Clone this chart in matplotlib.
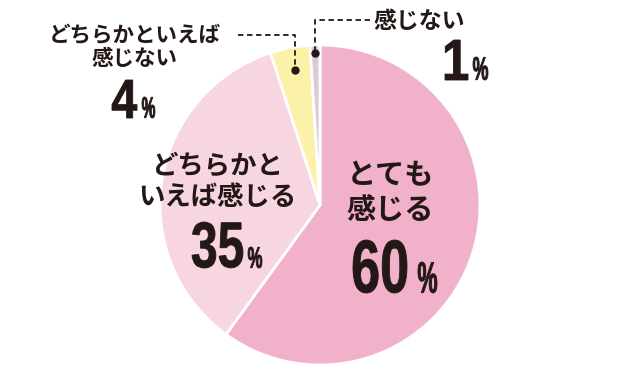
import matplotlib.pyplot as plt
from matplotlib.font_manager import FontProperties
from matplotlib.patches import PathPatch
from matplotlib.textpath import TextPath
from matplotlib.transforms import Affine2D

W, H = 621, 373

labels = ["とても\n感じる", "どちらかと\nいえば感じる", "どちらかといえば\n感じない", "感じない"]
values = [60, 35, 4, 1]
colors = ["#F2B1CA", "#F8D6E1", "#FBF1A9", "#D9CDD3"]

ink = "#231815"
jp = ["Noto Sans CJK JP", "DejaVu Sans"]
numfont = FontProperties(family="Liberation Sans", weight="bold")


def Y(y):
    # image pixel row -> axes y
    return H - y


def boxed(s, x0, x1, top, bottom):
    # condensed number: glyph outline squeezed into a pixel box
    tp = TextPath((0, 0), s, size=1, prop=numfont)
    e = tp.get_extents()
    tr = (Affine2D().translate(-e.x0, -e.y0)
          .scale((x1 - x0) / e.width, (bottom - top) / e.height)
          .translate(x0, Y(bottom)))
    ax.add_patch(PathPatch(tr.transform_path(tp), fc=ink, ec=ink, lw=0.6))


fig = plt.figure(figsize=(6.21, 3.73), dpi=100)
ax = fig.add_axes([0, 0, 1, 1])

ax.pie(values, colors=colors, startangle=90, counterclock=False,
       center=(320, Y(205)), radius=160, frame=True,
       wedgeprops=dict(edgecolor="white", linewidth=2))
ax.set_xlim(0, W)
ax.set_ylim(0, H)
ax.set_aspect("equal")
ax.axis("off")

# label (x, y, size, linespacing), number box, percent box
spots = [
    ((390, 193, 21, 1.2), (353, 407, 240, 293), (418, 437, 262, 293)),
    ((217, 182, 19, 1.2), (192, 243, 222, 268), (248, 262, 247, 268)),
    ((135, 47, 15.5, 1.15), (112, 137, 80, 118), (142, 155, 97, 118)),
    ((419, 22, 16.5, 1.2), (445, 468, 40, 80), (473, 488, 57, 80)),
]

for lab, v, ((lx, ly, fs, ls), nb, pb) in zip(labels, values, spots):
    ax.text(lx, Y(ly), lab, ha="center", va="center", fontsize=fs,
            family=jp, weight="bold", color=ink, linespacing=ls)
    boxed(str(v), *nb)
    boxed("%", *pb)

# leader lines
dash = dict(color=ink, lw=1.3, linestyle=(0, (3, 2)))
ax.plot([238, 295, 295], [Y(35), Y(35), Y(70)], **dash)
ax.plot(295, Y(70), "o", color=ink, ms=5)
ax.plot([370, 315, 315], [Y(20), Y(20), Y(53)], **dash)
ax.plot(315, Y(53), "o", color=ink, ms=5)

fig.savefig("out.png", dpi=100, facecolor="white")
